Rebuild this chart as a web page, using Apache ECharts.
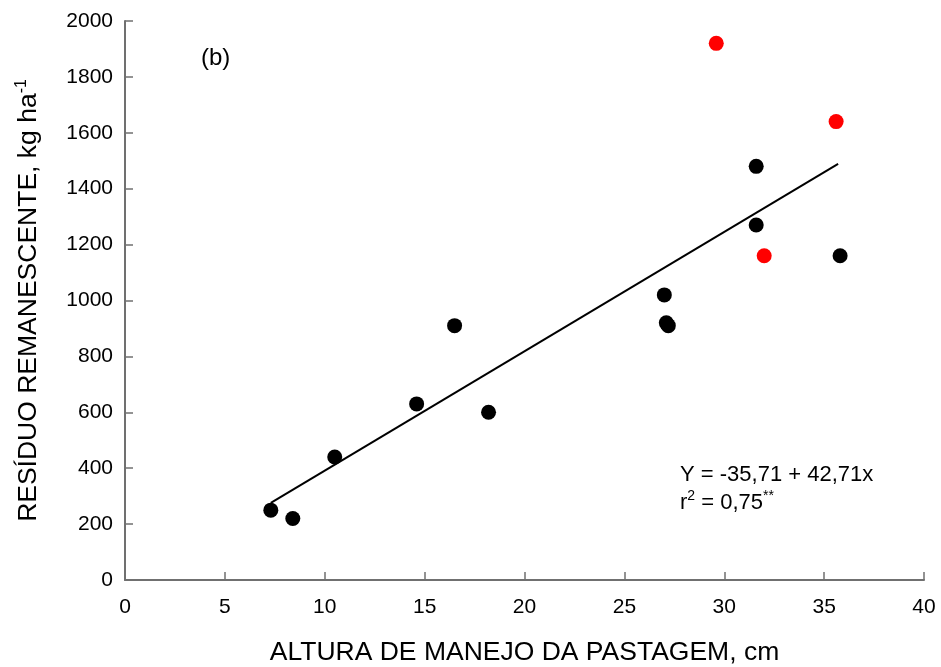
<!DOCTYPE html>
<html>
<head>
<meta charset="utf-8">
<script src="https://cdn.jsdelivr.net/npm/echarts@6/dist/echarts.min.js"></script>
<style>
  html, body { margin: 0; padding: 0; background: #fff; }
  #chart { width: 941px; height: 667px; }
</style>
</head>
<body>
<div id="chart"></div>
<script>
// Grazing height (cm) vs. remaining residue (kg/ha)
const heightBlack = [7.3, 8.4, 10.5, 14.6, 16.5, 18.2, 27.0, 27.1, 27.2, 31.6, 31.6, 35.8];
const residueBlack = [250, 220, 440, 630, 910, 600, 1020, 920, 910, 1480, 1270, 1160];
const heightRed = [29.6, 35.6, 32.0];
const residueRed = [1920, 1640, 1160];

// Fitted regression: Y = a + b x
const intercept = -35.71;
const slope = 42.71;
const fitRange = [7.3, 35.7];

const xTicks = [0, 5, 10, 15, 20, 25, 30, 35, 40];
const yTicks = [0, 200, 400, 600, 800, 1000, 1200, 1400, 1600, 1800, 2000];

const FONT = 'Liberation Sans, Arial, sans-serif';
const AXIS_COLOR = '#707070';

const pair = (xs, ys) => xs.map((x, i) => [x, ys[i]]);
const fitLine = fitRange.map(x => [x, intercept + slope * x]);

const chart = echarts.init(document.getElementById('chart'));
chart.setOption({
  animation: false,
  backgroundColor: '#fff',
  grid: { left: 125, right: 17, top: 21, bottom: 87, containLabel: false, outerBoundsMode: 'none' },
  xAxis: {
    type: 'value',
    min: xTicks[0],
    max: xTicks[xTicks.length - 1],
    interval: xTicks[1] - xTicks[0],
    splitLine: { show: false },
    axisLine: { show: true, lineStyle: { color: AXIS_COLOR, width: 2 } },
    axisTick: { show: true, inside: true, length: 8, lineStyle: { color: AXIS_COLOR, width: 1.5 } },
    axisLabel: { color: '#000', fontFamily: FONT, fontSize: 21, margin: 17, formatter: v => String(v) },
    name: 'ALTURA DE MANEJO DA PASTAGEM, cm',
    nameLocation: 'middle',
    nameGap: 59,
    nameTextStyle: { color: '#000', fontFamily: FONT, fontSize: 26.5 }
  },
  yAxis: {
    type: 'value',
    min: yTicks[0],
    max: yTicks[yTicks.length - 1],
    interval: yTicks[1] - yTicks[0],
    splitLine: { show: false },
    axisLine: { show: true, lineStyle: { color: AXIS_COLOR, width: 2 } },
    axisTick: { show: true, inside: true, length: 8, lineStyle: { color: AXIS_COLOR, width: 1.5 } },
    axisLabel: { color: '#000', fontFamily: FONT, fontSize: 21, margin: 12, formatter: v => String(v) },
    name: 'RESÍDUO REMANESCENTE, kg ha{sup|-1}',
    nameLocation: 'middle',
    nameRotate: 90,
    nameGap: 82,
    nameTextStyle: {
      color: '#000', fontFamily: FONT, fontSize: 26.5,
      rich: { sup: { fontFamily: FONT, fontSize: 16, color: '#000', verticalAlign: 'top', padding: [0, 0, 13, 0] } }
    }
  },
  series: [
    {
      type: 'line',
      data: fitLine,
      showSymbol: false,
      symbol: 'none',
      lineStyle: { color: '#000', width: 2 },
      z: 2
    },
    {
      type: 'scatter',
      data: pair(heightBlack, residueBlack),
      symbol: 'circle',
      symbolSize: 15,
      itemStyle: { color: '#000', opacity: 1 },
      z: 3
    },
    {
      type: 'scatter',
      data: pair(heightRed, residueRed),
      symbol: 'circle',
      symbolSize: 15,
      itemStyle: { color: '#ff0000', opacity: 1 },
      z: 3
    }
  ],
  graphic: [
    {
      type: 'text', left: 201, top: 46,
      style: { text: '(b)', fontFamily: FONT, fontSize: 24, fill: '#000' }
    },
    {
      type: 'text', left: 680, top: 461,
      style: {
        text: 'Y = -35,71 + 42,71x\nr{sup|2} = 0,75{sup|**}',
        fontFamily: FONT, fontSize: 22, fill: '#000', lineHeight: 28,
        rich: {
          sup: { fontFamily: FONT, fontSize: 14, fill: '#000', verticalAlign: 'top', padding: [0, 0, 9, 0] }
        }
      }
    }
  ]
});
</script>
</body>
</html>
